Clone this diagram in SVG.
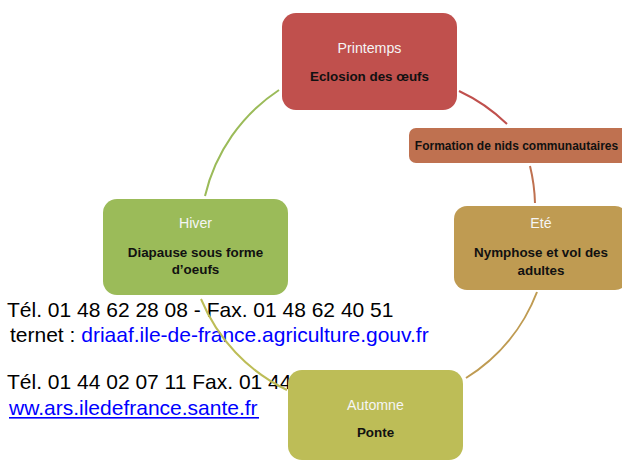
<svg xmlns="http://www.w3.org/2000/svg" width="622" height="463" viewBox="0 0 622 463">
<style>
.box{stroke:none}
.t1{font-family:"Liberation Sans",Arial,sans-serif;font-size:14.2px;fill:#F5F5F5;text-anchor:middle}
.t2{font-family:"Liberation Sans",Arial,sans-serif;font-size:13.4px;font-weight:bold;fill:#111;text-anchor:middle}
.info{font-family:"Liberation Sans",Arial,sans-serif;font-size:21px;fill:#000}
.link{fill:#0000FF}
.conn{fill:none;stroke-width:2}
</style>
<g id="contact">
<text class="info" x="7" y="317">Tél. 01 48 62 28 08 - Fax. 01 48 62 40 51</text>
<text class="info" x="10" y="342">ternet : <tspan class="link">driaaf.ile-de-france.agriculture.gouv.fr</tspan></text>
<text class="info" x="7" y="389">Tél. 01 44 02 07 11 Fax. 01 44</text>
<text class="info link" x="9" y="415">ww.ars.iledefrance.sante.fr</text>
<rect x="9" y="417" width="250" height="1.6" fill="#0000FF"/>
</g>
<g id="connectors">
<path class="conn" stroke="#9BBB59" d="M205,196 A175,175 0 0 1 279,90"/>
<path class="conn" stroke="#C0504D" d="M459,91 A175,175 0 0 1 507,124"/>
<path class="conn" stroke="#BF7150" d="M530,166 A175,175 0 0 1 535,203"/>
<path class="conn" stroke="#BF9B52" d="M537,292 A175,175 0 0 1 466,378"/>
<path class="conn" stroke="#BDBD57" d="M287,390 A175,175 0 0 1 201,299"/>
</g>
<g id="printemps">
<rect class="box" x="282" y="13" width="175" height="97" rx="14" fill="#C0504D"/>
<text class="t1" x="369.5" y="53">Printemps</text>
<text class="t2" x="369.5" y="81">Eclosion des œufs</text>
</g>
<g id="formation">
<rect class="box" x="409" y="128" width="224" height="35" rx="7" fill="#BF7150"/>
<text class="t2" x="516.5" y="150" style="font-size:12px">Formation de nids communautaires</text>
</g>
<g id="ete">
<rect class="box" x="454" y="206" width="174" height="84" rx="13" fill="#BF9B52"/>
<text class="t1" x="541" y="228">Eté</text>
<text class="t2" x="541" y="257">Nymphose et vol des</text>
<text class="t2" x="541" y="275">adultes</text>
</g>
<g id="hiver">
<rect class="box" x="103" y="199" width="185" height="96" rx="14" fill="#9BBB59"/>
<text class="t1" x="195.5" y="228">Hiver</text>
<text class="t2" x="195.5" y="257">Diapause sous forme</text>
<text class="t2" x="195.5" y="274">d’oeufs</text>
</g>
<g id="automne">
<rect class="box" x="288" y="370" width="175" height="90" rx="14" fill="#BDBD57"/>
<text class="t1" x="375.5" y="410">Automne</text>
<text class="t2" x="375.5" y="437">Ponte</text>
</g>
</svg>
